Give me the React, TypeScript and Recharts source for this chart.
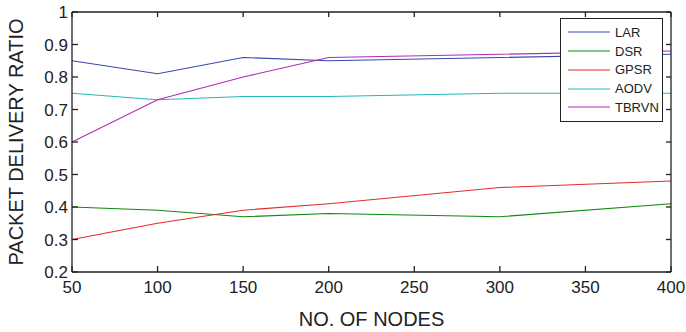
import { LineChart, Line, XAxis, YAxis, Legend } from 'recharts'

// number of nodes in the network
const nodes = [50, 100, 150, 200, 300, 400]
const xTicks = [50, 100, 150, 200, 250, 300, 350, 400]
const yTicks = [0.2, 0.3, 0.4, 0.5, 0.6, 0.7, 0.8, 0.9, 1]

// packet delivery ratio for each protocol
const lar = [0.85, 0.81, 0.86, 0.85, 0.86, 0.87]
const dsr = [0.4, 0.39, 0.37, 0.38, 0.37, 0.41]
const gpsr = [0.3, 0.35, 0.39, 0.41, 0.46, 0.48]
const aodv = [0.75, 0.73, 0.74, 0.74, 0.75, 0.75]
const tbrvn = [0.6, 0.73, 0.8, 0.86, 0.87, 0.88]

const data = nodes.map((n, i) => ({
  n,
  LAR: lar[i],
  DSR: dsr[i],
  GPSR: gpsr[i],
  AODV: aodv[i],
  TBRVN: tbrvn[i],
}))

const series = [
  { key: 'LAR', color: '#3a48b0' },
  { key: 'DSR', color: '#118811' },
  { key: 'GPSR', color: '#e52b2b' },
  { key: 'AODV', color: '#22b8b8' },
  { key: 'TBRVN', color: '#b22bb2' },
]

const font = 'Liberation Sans, Arial, Helvetica, sans-serif'
const frame = { stroke: '#222', strokeWidth: 1.3 }
const tickStyle = { fill: '#222', fontSize: 17, fontFamily: font }
// top and right edges only carry tick marks, no labels
const noLabel = () => <g />

// boxed legend, rows kept in plotting order
const LegendBox = () => (
  <div
    style={{
      border: '1.3px solid #222',
      background: '#fff',
      padding: '4px 0 4px 7px',
      fontFamily: font,
      fontSize: 13,
      color: '#222',
    }}
  >
    {series.map((s) => (
      <div key={s.key} style={{ display: 'flex', alignItems: 'center', height: 18.75 }}>
        <svg width={42} height={4} style={{ marginRight: 5 }}>
          <line x1={0} x2={42} y1={2} y2={2} stroke={s.color} strokeWidth={1.2} />
        </svg>
        <span>{s.key}</span>
      </div>
    ))}
  </div>
)

export default function App() {
  return (
    <div style={{ position: 'absolute', left: 0, top: 0, background: '#fff' }}>
      <LineChart width={686} height={332} data={data} margin={{ top: 12, right: 15, left: 0, bottom: 0 }}>
        <XAxis
          dataKey="n"
          type="number"
          domain={[50, 400]}
          ticks={xTicks}
          height={60}
          axisLine={frame}
          tickLine={frame}
          tickSize={-6}
          tickMargin={15}
          tick={tickStyle}
          label={{ value: 'NO. OF NODES', position: 'insideBottom', offset: 6, fill: '#222', fontSize: 20, fontFamily: font }}
        />
        <XAxis
          xAxisId="top"
          dataKey="n"
          type="number"
          orientation="top"
          mirror
          domain={[50, 400]}
          ticks={xTicks}
          height={1}
          axisLine={frame}
          tickLine={frame}
          tickSize={5}
          tick={noLabel}
        />
        <YAxis
          type="number"
          domain={[0.2, 1]}
          ticks={yTicks}
          width={72}
          axisLine={frame}
          tickLine={frame}
          tickSize={-6}
          tickMargin={10}
          tick={tickStyle}
          tickFormatter={(v: number) => String(Number(v.toFixed(1)))}
          label={{ value: 'PACKET DELIVERY RATIO', angle: -90, position: 'insideLeft', offset: 16, fill: '#222', fontSize: 20, fontFamily: font, style: { textAnchor: 'middle' } }}
        />
        <YAxis
          yAxisId="right"
          dataKey="AODV"
          type="number"
          orientation="right"
          mirror
          domain={[0.2, 1]}
          ticks={yTicks}
          width={1}
          axisLine={frame}
          tickLine={frame}
          tickSize={5}
          tick={noLabel}
        />
        <Legend
          layout="horizontal"
          verticalAlign="middle"
          align="center"
          content={<LegendBox />}
          wrapperStyle={{ left: 560, top: 18, width: 103 }}
        />
        {series.map((s) => (
          <Line
            key={s.key}
            dataKey={s.key}
            name={s.key}
            stroke={s.color}
            strokeWidth={1.1}
            dot={false}
            activeDot={false}
            type="linear"
            isAnimationActive={false}
          />
        ))}
      </LineChart>
    </div>
  )
}
